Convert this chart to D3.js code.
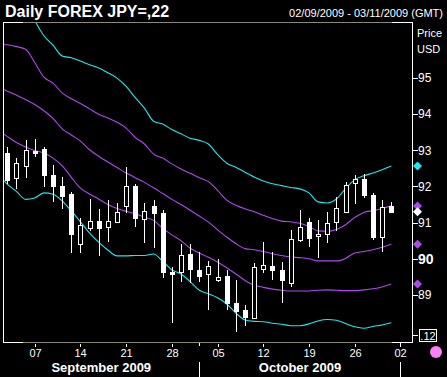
<!DOCTYPE html>
<html><head><meta charset="utf-8">
<script src="https://cdn.jsdelivr.net/npm/d3@7"></script>
<style>
body{margin:0;background:#000}
svg{display:block}
text{font-family:"Liberation Sans",Arial,sans-serif;fill:#fff}
</style>
</head><body>
<svg id="c" width="447" height="377"></svg>
<script>
// ---------- DATA ----------
const allDays = ["2009-09-01","2009-09-02","2009-09-03","2009-09-04",
 "2009-09-07","2009-09-08","2009-09-09","2009-09-10","2009-09-11",
 "2009-09-14","2009-09-15","2009-09-16","2009-09-17","2009-09-18",
 "2009-09-21","2009-09-22","2009-09-23","2009-09-24","2009-09-25",
 "2009-09-28","2009-09-29","2009-09-30","2009-10-01","2009-10-02",
 "2009-10-05","2009-10-06","2009-10-07","2009-10-08","2009-10-09",
 "2009-10-12","2009-10-13","2009-10-14","2009-10-15","2009-10-16",
 "2009-10-19","2009-10-20","2009-10-21","2009-10-22","2009-10-23",
 "2009-10-26","2009-10-27","2009-10-28","2009-10-29","2009-10-30",
 "2009-11-02","2009-11-03"];
const candleDays = allDays.slice(1, 44);
const bandDays = allDays.slice(0, 44);

const open  = [92.92,92.21,92.56,92.97,93.02,92.30,92.00,91.78,90.39,90.85,91.04,90.86,91.01,91.44,92.00,91.10,91.45,91.25,89.63,89.61,90.12,89.69,89.56,89.40,89.52,88.78,88.58,88.35,89.72,89.79,89.68,89.33,90.51,91.01,90.61,90.67,91.00,91.29,92.09,92.19,91.75,90.60,91.44];
const high  = [93.07,92.76,93.27,93.30,93.08,92.58,92.24,91.83,91.12,91.65,91.37,91.61,91.54,92.52,92.05,91.54,91.61,91.34,89.76,90.40,90.40,90.18,89.93,89.98,89.68,89.39,88.72,89.87,90.46,90.17,89.91,90.79,91.34,91.12,91.06,91.29,91.70,92.11,92.30,92.33,91.81,91.61,91.55];
const low   = [92.05,91.91,92.21,92.79,91.98,91.57,91.37,90.16,90.16,90.76,90.07,90.46,90.99,91.26,90.88,90.43,90.30,89.47,88.21,89.36,89.33,89.36,88.58,89.36,88.58,87.97,88.12,88.32,89.59,89.39,88.78,89.22,90.46,90.32,90.02,90.43,90.76,91.25,91.50,91.66,90.51,90.19,91.25];
const close = [92.17,92.63,92.99,92.92,92.31,92.01,91.73,90.68,90.92,91.03,90.85,91.04,91.28,91.99,91.11,91.31,91.26,89.61,89.57,90.10,89.71,89.52,89.79,89.48,88.76,88.56,88.39,89.76,89.81,89.69,89.39,90.54,90.87,90.57,90.67,90.98,91.39,92.03,92.18,91.76,90.60,91.41,91.29];

const upper2 = [97.11,97.18,97.19,97.17,96.58,96.15,95.89,95.59,95.54,95.45,95.35,95.26,95.13,94.98,94.75,94.44,94.15,93.79,93.71,93.56,93.44,93.32,93.26,93.16,92.87,92.63,92.52,92.38,92.25,92.14,92.06,92.01,91.96,91.92,91.81,91.56,91.53,91.64,91.93,92.17,92.28,92.36,92.45,92.55];
const upper1 = [95.92,95.90,95.85,95.78,95.41,95.01,94.84,94.57,94.41,94.28,94.13,93.98,93.88,93.76,93.60,93.34,93.16,92.88,92.77,92.61,92.47,92.35,92.23,92.12,91.88,91.61,91.47,91.37,91.29,91.19,91.10,91.03,91.01,90.97,90.88,90.76,90.75,90.80,90.93,91.13,91.27,91.32,91.38,91.45];
const middle = [94.73,94.62,94.51,94.39,94.25,94.08,93.87,93.58,93.41,93.24,93.00,92.82,92.66,92.51,92.36,92.23,92.10,91.95,91.79,91.63,91.49,91.33,91.17,91.00,90.79,90.59,90.41,90.27,90.24,90.19,90.13,90.08,90.04,90.02,89.99,89.93,89.93,89.93,90.00,90.15,90.19,90.24,90.31,90.39];
const lower1 = [93.55,93.37,93.20,93.08,92.98,92.91,92.77,92.56,92.24,91.94,91.78,91.64,91.49,91.38,91.30,91.23,91.14,91.05,90.83,90.65,90.49,90.28,90.15,90.03,89.90,89.74,89.57,89.39,89.26,89.20,89.15,89.12,89.10,89.10,89.10,89.12,89.13,89.12,89.11,89.11,89.13,89.16,89.21,89.29];
const lower2 = [92.33,92.05,91.85,91.63,91.67,91.81,91.77,91.59,91.31,91.01,90.70,90.45,90.23,90.07,90.07,90.08,90.08,90.12,89.92,89.68,89.57,89.36,89.12,89.02,88.91,88.74,88.49,88.30,88.26,88.25,88.21,88.18,88.14,88.14,88.19,88.27,88.31,88.29,88.20,88.11,88.07,88.12,88.16,88.22];

const yTicks = [95,94,93,92,91,90,89];
const boldTick = 90;
const boxTick = [87.89];
const boxLabel = ".12";
const xTickDays = ["2009-09-07","2009-09-14","2009-09-21","2009-09-28","2009-10-05","2009-10-12","2009-10-19","2009-10-26","2009-11-02"];
const xTickLabels = ["07","14","21","28","05","12","19","26","02"];
const monthLabels = ["September 2009","October 2009"];
const monthEnds = ["2009-10-01","2009-11-02"];
const title = "Daily FOREX JPY=,22";
const dateRange = "02/09/2009 - 03/11/2009 (GMT)";
const unitLabels = ["Price","USD"];

// ---------- LAYOUT ----------
const L = 3, R = 412, T = 22, B = 342;
const CYAN = "#20e8ee", PURPLE = "#b048f2", GRAY = "#8a8a7c";

const svg = d3.select("#c");
svg.append("rect").attr("width",447).attr("height",377).attr("fill","#000");

const idx = d => allDays.indexOf(d);
const x = d3.scaleLinear().domain([0.53, 45.27]).range([L, R]);
const y = d3.scaleLinear().domain([87.69, 96.53]).range([B, T]);
const px = d => Math.round(x(idx(d)));

// title
svg.append("text").attr("x",5).attr("y",17).attr("font-size",16).attr("font-weight","bold").text(title);
svg.append("text").attr("x",443).attr("y",17).attr("font-size",11).attr("text-anchor","end").text(dateRange);

// clip
svg.append("clipPath").attr("id","clip").append("rect")
  .attr("x",L+1).attr("y",T+1).attr("width",R-L-1).attr("height",B-T-1);
const plot = svg.append("g").attr("clip-path","url(#clip)");

// bands
const bands = [[upper2,CYAN],[upper1,PURPLE],[middle,PURPLE],[lower1,PURPLE],[lower2,CYAN]];
const line = d3.line().x((d,i)=>x(idx(bandDays[i]))).y(d=>y(d)).curve(d3.curveMonotoneX);
bands.forEach(([vals,col])=>{
  plot.append("path").attr("d",line(vals)).attr("fill","none")
    .attr("stroke",col).attr("stroke-width",1.1);
});

// candles
const cg = plot.append("g").attr("shape-rendering","crispEdges");
candleDays.forEach((d,i)=>{
  const cx = px(d);
  cg.append("line").attr("x1",cx+0.5).attr("x2",cx+0.5)
    .attr("y1",Math.round(y(high[i]))).attr("y2",Math.round(y(low[i])))
    .attr("stroke","#fff").attr("stroke-width",1);
  const yt = Math.round(y(Math.max(open[i],close[i])));
  const yb = Math.round(y(Math.min(open[i],close[i])));
  if (close[i] >= open[i]) {
    cg.append("rect").attr("x",cx-1.5).attr("y",yt+0.5).attr("width",4).attr("height",Math.max(1,yb-yt))
      .attr("fill","#000").attr("stroke","#fff").attr("stroke-width",1);
  } else {
    cg.append("rect").attr("x",cx-2).attr("y",yt).attr("width",5).attr("height",Math.max(2,yb-yt+1))
      .attr("fill","#fff");
  }
});

// frame
const fg = svg.append("g").attr("shape-rendering","crispEdges");
fg.append("line").attr("x1",L+0.5).attr("x2",L+0.5).attr("y1",T).attr("y2",B+1).attr("stroke","#fff");
fg.append("line").attr("x1",R+0.5).attr("x2",R+0.5).attr("y1",T).attr("y2",B+1).attr("stroke","#fff");
[T+0.5,B+0.5].forEach(yy=>{
  fg.append("line").attr("x1",L).attr("x2",R+1).attr("y1",yy).attr("y2",yy).attr("stroke",GRAY);
  fg.append("line").attr("x1",L).attr("x2",L+20).attr("y1",yy).attr("y2",yy).attr("stroke","#fff");
  fg.append("line").attr("x1",R-20).attr("x2",R+1).attr("y1",yy).attr("y2",yy).attr("stroke","#fff");
});

// y axis
const yAxis = d3.axisRight(y).tickValues(yTicks).tickSize(5).tickFormat(d3.format("d"));
const ya = svg.append("g").attr("transform",`translate(${R+0.5},0.5)`).call(yAxis);
ya.select(".domain").remove();
ya.selectAll(".tick line").attr("stroke","#fff").attr("shape-rendering","crispEdges");
ya.selectAll(".tick text").attr("fill","#fff").attr("x",5.5)
  .attr("font-family",'"Liberation Sans",Arial,sans-serif')
  .attr("font-size",d=>d===boldTick?14:12)
  .attr("font-weight",d=>d===boldTick?"bold":"normal");
unitLabels.forEach((t,i)=>{
  svg.append("text").attr("x",417).attr("y",37+i*16).attr("font-size",11).text(t);
});
// boxed tick
boxTick.forEach(v=>{
  const yy = Math.round(y(v))+0.5;
  svg.append("line").attr("x1",R).attr("x2",R+6).attr("y1",yy).attr("y2",yy).attr("stroke","#fff").attr("shape-rendering","crispEdges");
  svg.append("rect").attr("x",419.5).attr("y",yy-6).attr("width",17).attr("height",12)
    .attr("fill","#000").attr("stroke","#fff").attr("shape-rendering","crispEdges");
  svg.append("text").attr("x",428).attr("y",yy+4).attr("font-size",11).attr("text-anchor","middle").text(boxLabel);
});

// last-value diamonds
const last = a => a[a.length-1];
const diamonds = [[last(upper2),CYAN],[last(upper1),PURPLE],[last(close),"#fff"],[last(middle),PURPLE],[last(lower1),PURPLE]];
diamonds.forEach(([v,col])=>{
  const cy = y(v), cx = 417.5;
  svg.append("path").attr("d",`M${cx},${cy-4.5}L${cx+4.5},${cy}L${cx},${cy+4.5}L${cx-4.5},${cy}Z`).attr("fill",col);
});

// x axis
const xg = svg.append("g").attr("shape-rendering","crispEdges");
xTickDays.forEach((d,i)=>{
  const cx = px(d)+0.5;
  xg.append("line").attr("x1",cx).attr("x2",cx).attr("y1",344).attr("y2",347).attr("stroke","#fff");
  svg.append("text").attr("x",cx).attr("y",357).attr("font-size",11).attr("text-anchor","middle").text(xTickLabels[i]);
});
let prev = L;
monthEnds.forEach((d,i)=>{
  const cx = px(d)+0.5;
  xg.append("line").attr("x1",cx).attr("x2",cx).attr("y1",343).attr("y2",346).attr("stroke","#fff");
  xg.append("line").attr("x1",cx).attr("x2",cx).attr("y1",362).attr("y2",377).attr("stroke","#fff");
  svg.append("text").attr("x",(prev+cx)/2).attr("y",372).attr("font-size",13).attr("font-weight","bold")
    .attr("text-anchor","middle").text(monthLabels[i]);
  prev = cx;
});

// pink marker
svg.append("circle").attr("cx",436).attr("cy",352).attr("r",6).attr("fill","#ff80f4");
</script>
</body></html>
